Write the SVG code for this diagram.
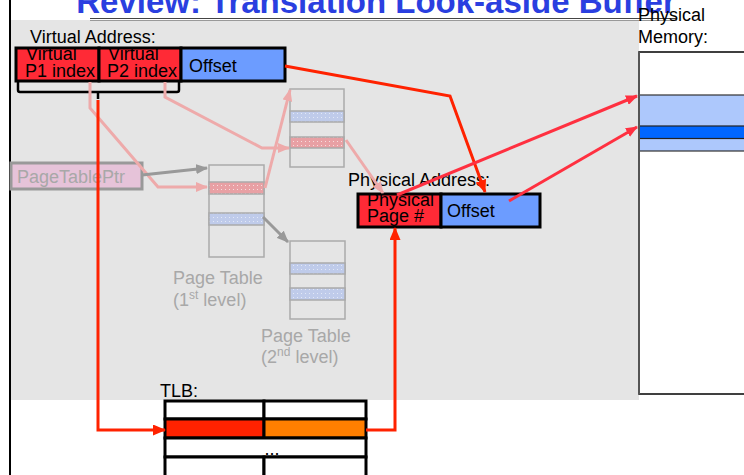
<svg xmlns="http://www.w3.org/2000/svg" width="744" height="475" viewBox="0 0 744 475">
  <style>
    text { font-family: "Liberation Sans", Arial, sans-serif; font-size: 18px; fill: #000; }
    .title { font-size: 33px; font-weight: bold; fill: #2a3fe0; }
    .faded { fill: #a8a8a8; }
    .field { stroke: #000; stroke-width: 3; }
    .red { fill: #ff2a36; }
    .blue { fill: #6c9cff; }
    .pt { fill: #e5e5e5; stroke: #aaa; stroke-width: 1.5; }
    .row-red { fill: url(#dots-red); stroke: #aaa; stroke-width: 1.5; }
    .row-blue { fill: url(#dots-blue); stroke: #aaa; stroke-width: 1.5; }
    .tlb { fill: #fff; stroke: #000; stroke-width: 3; }
    .link-red { fill: none; stroke: #ff2200; stroke-width: 3; }
    .link-red2 { fill: none; stroke: #ff3040; stroke-width: 3; }
    .link-pink { fill: none; stroke: #eeaaaa; stroke-width: 3; }
    .link-gray { fill: none; stroke: #999; stroke-width: 3; }
  </style>
  <defs>
    <pattern id="dots-red" width="4" height="4" patternUnits="userSpaceOnUse">
      <rect width="4" height="4" fill="#e8a0a4"/>
      <rect x="1" y="1" width="1" height="1" fill="#f6dede"/>
    </pattern>
    <pattern id="dots-blue" width="4" height="4" patternUnits="userSpaceOnUse">
      <rect width="4" height="4" fill="#bfcbea"/>
      <rect x="1" y="1" width="1" height="1" fill="#e2e8f6"/>
    </pattern>
    <marker id="ah-red" markerUnits="userSpaceOnUse" markerWidth="13" markerHeight="11" refX="12" refY="5.5" orient="auto">
      <path d="M0,0 L13,5.5 L0,11 z" fill="#ff2200"/>
    </marker>
    <marker id="ah-red2" markerUnits="userSpaceOnUse" markerWidth="12" markerHeight="10" refX="11" refY="5" orient="auto">
      <path d="M0,0 L12,5 L0,10 z" fill="#ff3040"/>
    </marker>
    <marker id="ah-pink" markerUnits="userSpaceOnUse" markerWidth="12" markerHeight="10" refX="11" refY="5" orient="auto">
      <path d="M0,0 L12,5 L0,10 z" fill="#eeaaaa"/>
    </marker>
    <marker id="ah-gray" markerUnits="userSpaceOnUse" markerWidth="12" markerHeight="10" refX="11" refY="5" orient="auto">
      <path d="M0,0 L12,5 L0,10 z" fill="#999"/>
    </marker>
  </defs>

  <!-- page frame -->
  <rect width="744" height="475" fill="#fff"/>
  <rect x="11" y="20" width="628" height="380" fill="#e5e5e5"/>
  <line x1="10" y1="0" x2="10" y2="475" stroke="#000" stroke-width="2"/>
  <text class="title" x="376" y="13" text-anchor="middle">Review: Translation Look-aside Buffer</text>
  <line x1="90" y1="18.5" x2="677" y2="18.5" stroke="#444" stroke-width="1"/>
  <line x1="90" y1="20.5" x2="677" y2="20.5" stroke="#999" stroke-width="1"/>

  <!-- physical memory -->
  <g id="physical-memory">
    <text x="638" y="21">Physical</text>
    <text x="638" y="43">Memory:</text>
    <rect x="639" y="52" width="120" height="342" fill="#fff" stroke="#000" stroke-width="1.5"/>
    <rect x="639" y="95" width="120" height="56" fill="#adc8fc" stroke="#333" stroke-width="1.2"/>
    <rect x="639" y="126" width="120" height="12.5" fill="#0066ff" stroke="#222" stroke-width="1.2"/>
    <line x1="639" y1="52" x2="639" y2="394" stroke="#555" stroke-width="2"/>
  </g>

  <!-- virtual address -->
  <g id="virtual-address">
    <text x="30" y="43">Virtual Address:</text>
    <rect class="field red" x="16" y="48" width="83" height="33"/>
    <rect class="field red" x="99" y="48" width="82" height="33"/>
    <rect class="field blue" x="181" y="48" width="104" height="33"/>
    <text x="26" y="60">Virtual</text>
    <text x="25" y="77">P1 index</text>
    <text x="108" y="60">Virtual</text>
    <text x="107" y="77">P2 index</text>
    <text x="189" y="72">Offset</text>
    <path d="M18,82 L18,90 Q18,92 20,92 L177,92 Q179,92 179,90 L179,82 M98,92 L98,99" fill="none" stroke="#000" stroke-width="2.5"/>
  </g>

  <!-- page table pointer -->
  <g id="page-table-ptr">
    <rect x="11" y="163" width="131" height="26" fill="#e6c3d9" stroke="#999" stroke-width="3"/>
    <text class="faded" x="17" y="183">PageTablePtr</text>
  </g>

  <!-- first-level page table -->
  <g id="page-table-l1">
    <rect class="pt" x="209" y="165" width="55" height="92"/>
    <rect class="row-red" x="209" y="182" width="55" height="12"/>
    <rect class="row-blue" x="209" y="213" width="55" height="12"/>
    <text class="faded" x="173" y="284">Page Table</text>
    <text class="faded" x="173" y="306">(1<tspan font-size="12" dy="-7">st</tspan><tspan dy="7"> level)</tspan></text>
  </g>

  <!-- second-level page tables -->
  <g id="page-table-l2a">
    <rect class="pt" x="290" y="89" width="54" height="78"/>
    <rect class="row-blue" x="290" y="111" width="54" height="11"/>
    <rect class="row-red" x="290" y="137" width="54" height="11"/>
  </g>
  <g id="page-table-l2b">
    <rect class="pt" x="290" y="241" width="55" height="78"/>
    <rect class="row-blue" x="290" y="263" width="55" height="11"/>
    <rect class="row-blue" x="290" y="288" width="55" height="12"/>
    <text class="faded" x="261" y="342">Page Table</text>
    <text class="faded" x="261" y="363">(2<tspan font-size="12" dy="-7">nd</tspan><tspan dy="7"> level)</tspan></text>
  </g>

  <!-- physical address -->
  <g id="physical-address">
    <text x="348" y="186">Physical Address:</text>
    <rect class="field red" x="358" y="194" width="83" height="33"/>
    <rect class="field blue" x="441" y="194" width="99" height="33"/>
    <text x="367" y="206">Physical</text>
    <text x="367" y="222">Page #</text>
    <text x="447" y="217">Offset</text>
  </g>

  <!-- TLB -->
  <g id="tlb">
    <text x="160" y="397">TLB:</text>
    <rect class="tlb" x="165" y="401" width="99" height="18"/>
    <rect class="tlb" x="264" y="401" width="102" height="18"/>
    <rect class="tlb" x="165" y="419" width="99" height="19" fill="#ff2200" style="fill:#ff2200"/>
    <rect class="tlb" x="264" y="419" width="102" height="19" style="fill:#ff7f00"/>
    <rect class="tlb" x="165" y="438" width="201" height="19"/>
    <text x="272" y="455" text-anchor="middle">...</text>
    <rect class="tlb" x="165" y="457" width="99" height="25"/>
    <rect class="tlb" x="264" y="457" width="102" height="25"/>
  </g>

  <!-- connectors -->
  <g id="connectors">
    <path class="link-pink" d="M90,82 L90,108 L158,187 L207,187" marker-end="url(#ah-pink)"/>
    <path class="link-pink" d="M165,82 L165,97 L262,148 L289,148" marker-end="url(#ah-pink)"/>
    <path class="link-pink" d="M265,188 L290,90" marker-end="url(#ah-pink)"/>
    <path class="link-pink" d="M346,140 L383,193" marker-end="url(#ah-pink)"/>
    <path class="link-gray" d="M142,175 L207,168" marker-end="url(#ah-gray)"/>
    <path class="link-gray" d="M263,217 L288,242" marker-end="url(#ah-gray)"/>
    <path class="link-red" d="M98,100 L98,430 L165,430" marker-end="url(#ah-red)"/>
    <path class="link-red" d="M366,430 L395,430 L395,228" marker-end="url(#ah-red)"/>
    <path class="link-red" d="M285,66 L450,96 L485,192" marker-end="url(#ah-red)"/>
    <path class="link-red2" d="M397,195 L637,96" marker-end="url(#ah-red2)"/>
    <path class="link-red2" d="M509,201 L637,127" marker-end="url(#ah-red2)"/>
  </g>
</svg>
